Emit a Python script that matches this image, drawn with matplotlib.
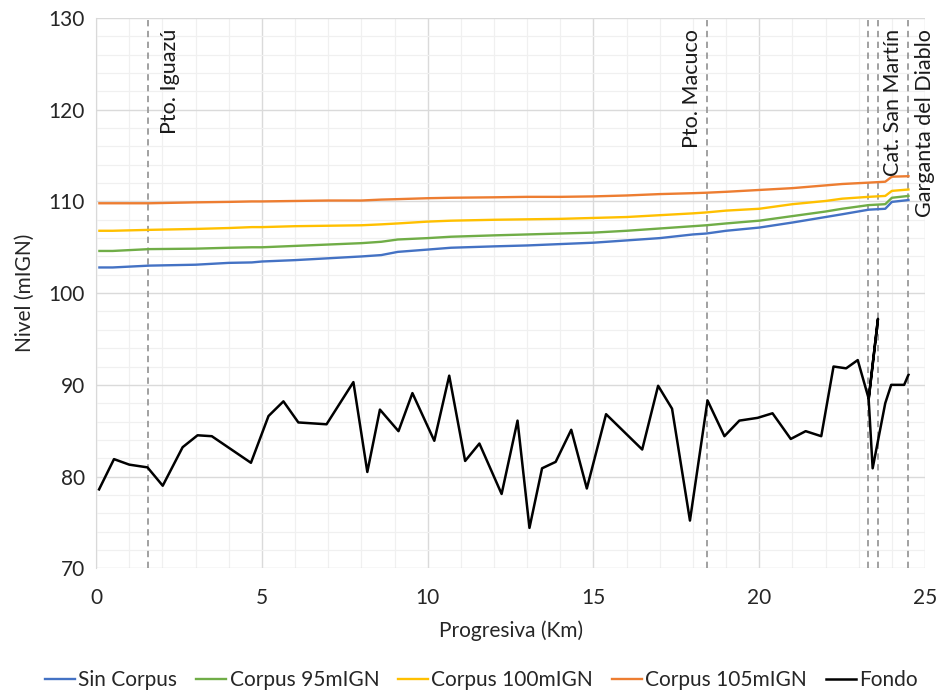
import matplotlib
matplotlib.use("Agg")
import matplotlib.pyplot as plt
from matplotlib.ticker import MultipleLocator

plt.rcParams['font.family'] = ['Lato', 'DejaVu Sans']

# Water-surface profiles along the river (km, mIGN)
prog = [0.1, 0.5, 1.6, 3.0, 4.0, 4.7, 5.0, 6.0, 7.0, 8.0, 8.6, 9.1, 10.0, 10.7,
        12.0, 13.0, 14.0, 15.0, 16.0, 17.0, 18.0, 18.4, 19.0, 20.0, 21.0, 22.0,
        22.5, 23.3, 23.8, 24.0, 24.5]
sin_corpus = [102.8, 102.8, 103.0, 103.1, 103.3, 103.35, 103.45, 103.6, 103.8, 104.0,
              104.15, 104.5, 104.75, 104.95, 105.1, 105.2, 105.35, 105.5, 105.75, 106.0,
              106.4, 106.5, 106.8, 107.15, 107.7, 108.3, 108.6, 109.1, 109.2, 109.95, 110.15]
corpus_95 = [104.6, 104.6, 104.8, 104.85, 104.95, 105.0, 105.0, 105.15, 105.3, 105.45,
             105.6, 105.85, 106.0, 106.15, 106.3, 106.4, 106.5, 106.6, 106.8, 107.05,
             107.3, 107.4, 107.6, 107.9, 108.4, 108.9, 109.2, 109.6, 109.7, 110.4, 110.6]
corpus_100 = [106.8, 106.8, 106.9, 107.0, 107.1, 107.2, 107.2, 107.3, 107.35, 107.4,
              107.5, 107.6, 107.8, 107.9, 108.0, 108.05, 108.1, 108.2, 108.3, 108.5,
              108.7, 108.8, 109.0, 109.2, 109.7, 110.05, 110.3, 110.5, 110.6, 111.15, 111.3]
corpus_105 = [109.8, 109.8, 109.8, 109.9, 109.95, 110.0, 110.0, 110.05, 110.1, 110.1,
              110.2, 110.25, 110.35, 110.4, 110.45, 110.5, 110.5, 110.55, 110.65, 110.8,
              110.9, 110.95, 111.05, 111.25, 111.45, 111.75, 111.9, 112.05, 112.15, 112.7, 112.75]

# River bed (thalweg) profile
fondo_x = [0.09, 0.54, 1.0, 1.55, 2.01, 2.61, 3.06, 3.49, 4.67, 5.2, 5.65, 6.1, 6.95,
           7.76, 8.18, 8.56, 9.12, 9.54, 10.2, 10.65, 11.13, 11.56, 12.23, 12.71, 13.07,
           13.45, 13.86, 14.33, 14.8, 15.38, 16.47, 16.95, 17.37, 17.91, 18.44, 18.95,
           19.4, 19.95, 20.4, 20.95, 21.4, 21.87, 22.24, 22.62, 22.97, 23.3, 23.58,
           23.3, 23.42, 23.8, 23.98, 24.37, 24.5]
fondo_y = [78.6, 81.9, 81.3, 81.0, 79.0, 83.2, 84.5, 84.4, 81.5, 86.6, 88.2, 85.9, 85.7,
           90.3, 80.5, 87.3, 84.95, 89.1, 83.9, 91.0, 81.7, 83.6, 78.1, 86.1, 74.4,
           80.9, 81.6, 85.1, 78.7, 86.8, 82.95, 89.9, 87.4, 75.2, 88.3, 84.4,
           86.1, 86.4, 86.9, 84.1, 84.95, 84.4, 92.0, 91.8, 92.7, 88.5, 97.2,
           88.4, 80.9, 88.0, 90.0, 90.0, 91.1]

# Reference sites along the reach
sitios = ["Pto. Iguazú", "Pto. Macuco", "Cat. San Martín", "Garganta del Diablo"]
sitios_km = [1.57, 18.43, 23.58, 24.49]
extra_km = [23.28]

series_names = ["Sin Corpus", "Corpus 95mIGN", "Corpus 100mIGN", "Corpus 105mIGN", "Fondo"]
colors = ["#4472C4", "#70AD47", "#FFC000", "#ED7D31", "#000000"]

fig = plt.figure(figsize=(9.42, 6.93), dpi=100)
ax = fig.add_axes([0.102, 0.180, 0.880, 0.794])

for data, name, c in zip([sin_corpus, corpus_95, corpus_100, corpus_105],
                         series_names[:4], colors[:4]):
    ax.plot(prog, data, color=c, lw=1.7, label=name, zorder=3)
ax.plot(fondo_x, fondo_y, color=colors[4], lw=1.8, label=series_names[4], zorder=3)

for km in sitios_km + extra_km:
    ax.axvline(km, color="#9a9a9a", lw=1.3, ls=(0, (3.5, 2.5)), zorder=2)

# Site names, rotated, near the top of the plot
label_x = [2.23, 17.97, 24.03, 24.99]
for name, lx in zip(sitios, label_x):
    ax.text(lx, 128.8, name, rotation=90, ha="center", va="top",
            fontsize=15.5, color="#1a1a1a", zorder=4)

ax.set_xlim(0, 25)
ax.set_ylim(70, 130)
ax.xaxis.set_major_locator(MultipleLocator(5))
ax.xaxis.set_minor_locator(MultipleLocator(1))
ax.yaxis.set_major_locator(MultipleLocator(10))
ax.yaxis.set_minor_locator(MultipleLocator(2))
ax.grid(which="major", color="#dadada", lw=1.0, zorder=0)
ax.grid(which="minor", color="#f0f0f0", lw=0.9, zorder=0)
ax.set_axisbelow(True)
ax.tick_params(which="both", length=0, labelsize=15, colors="#262626")
ax.tick_params(axis="x", pad=14)
ax.tick_params(axis="y", pad=8)

for s in ["top", "right", "bottom"]:
    ax.spines[s].set_visible(False)
ax.spines["left"].set_color("#d9d9d9")

ax.set_xlabel("Progresiva (Km)", fontsize=15, color="#262626", labelpad=9)
ax.set_ylabel("Nivel (mIGN)", fontsize=15, color="#262626", labelpad=10)

fig.legend(loc="center", bbox_to_anchor=(0.511, 0.019), ncol=5, frameon=False,
           fontsize=15, handlelength=1.45, handletextpad=0.15, columnspacing=0.9,
           labelcolor="#262626")

fig.savefig("out.png", dpi=100)
